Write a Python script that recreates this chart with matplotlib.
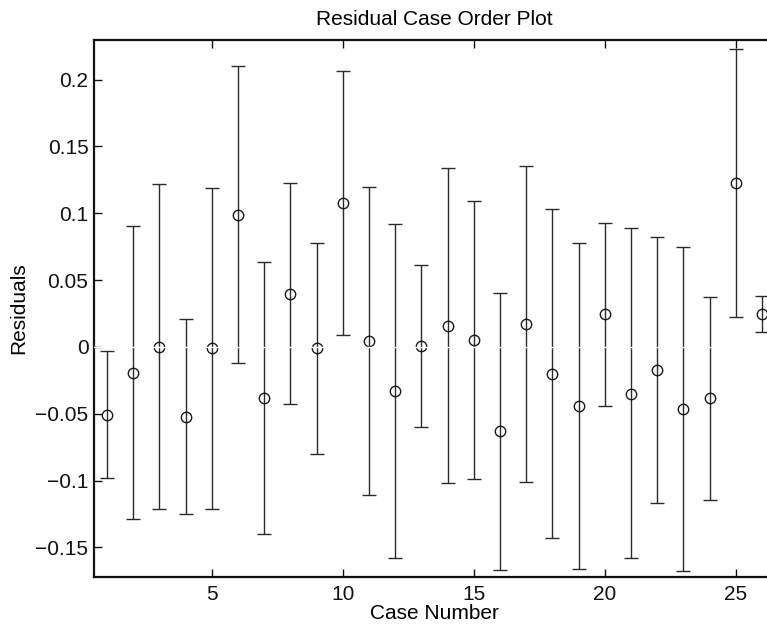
import matplotlib.pyplot as plt
import numpy as np

plt.rcParams['font.family'] = ['Liberation Sans', 'DejaVu Sans']

# residuals and their confidence intervals
case_number = np.arange(1, 27)
residuals = [-0.0506, -0.0195, 0.0, -0.0524, -0.001, 0.0988, -0.0379, 0.0397, -0.001, 0.1076,
             0.0043, -0.0332, 0.0005, 0.0157, 0.005, -0.063, 0.0172, -0.020, -0.0439, 0.0247,
             -0.0349, -0.0172, -0.0461, -0.0386, 0.1228, 0.0247]
ci_low = [-0.098, -0.129, -0.121, -0.125, -0.121, -0.0122, -0.140, -0.0427, -0.080, 0.0088,
          -0.111, -0.158, -0.0603, -0.102, -0.099, -0.167, -0.101, -0.143, -0.1664, -0.0441,
          -0.158, -0.117, -0.1674, -0.1148, 0.0225, 0.011]
ci_high = [-0.003, 0.0906, 0.1216, 0.021, 0.119, 0.2099, 0.0636, 0.1225, 0.0776, 0.2064,
           0.1198, 0.092, 0.061, 0.134, 0.109, 0.0404, 0.1355, 0.1033, 0.078, 0.0931,
           0.0888, 0.0826, 0.0746, 0.0374, 0.2226, 0.0382]

res = np.array(residuals)
yerr = [res - np.array(ci_low), np.array(ci_high) - res]

fig = plt.figure(figsize=(7.67, 6.31), dpi=100)
# axes run past the right edge of the figure, as in the reference
ax = fig.add_axes([94 / 767, 54 / 631, 681 / 767, 537 / 631])

ax.errorbar(case_number, residuals, yerr=yerr, fmt='o', color='#2a2a2a', ecolor='#2a2a2a',
            markerfacecolor='none', markeredgecolor='#1a1a1a', markersize=7.5, markeredgewidth=1,
            elinewidth=1, capsize=5, capthick=1)

# white reference line at zero
ax.axhline(0, color='white', linewidth=1, zorder=5)

ax.set_xlim(0.5, 26.5)
ax.set_ylim(-0.1722, 0.2297)
ax.set_xticks([5, 10, 15, 20, 25])
yt = [-0.15, -0.1, -0.05, 0, 0.05, 0.1, 0.15, 0.2]
ax.set_yticks(yt)
ax.set_yticklabels([('%g' % v).replace('-', '\u2212') for v in yt])

for s in ax.spines.values():
    s.set_linewidth(1.6)
    s.set_color('#111111')
ax.tick_params(direction='in', length=6, width=1, labelsize=15, top=True, right=True,
               colors='#111111')
ax.tick_params(axis='x', pad=6)
ax.tick_params(axis='y', pad=4)

ax.set_title('Residual Case Order Plot', fontsize=15, pad=11)
ax.set_xlabel('Case Number', fontsize=15, labelpad=0)
ax.set_ylabel('Residuals', fontsize=15, labelpad=5)

fig.savefig('out.png', dpi=100)
